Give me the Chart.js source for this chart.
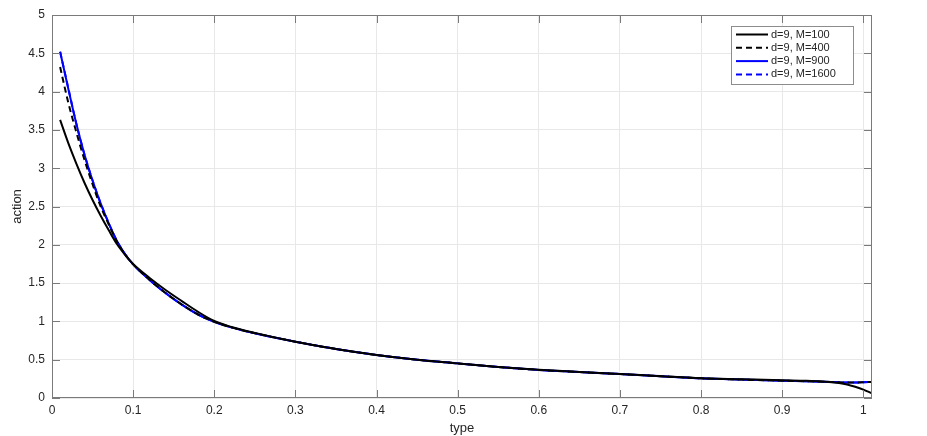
<!DOCTYPE html>
<html>
<head>
<meta charset="utf-8">
<script src="https://cdn.jsdelivr.net/npm/chart.js@4.4.1/dist/chart.umd.min.js"></script>
<style>
    html, body { margin: 0; padding: 0; background: #fff; }
    #wrap { width: 927px; height: 436px; }
</style>
</head>
<body>
<div id="wrap"><canvas id="chart"></canvas></div>
<script>
const typeValues = [0.01, 0.02, 0.03, 0.04, 0.05, 0.06, 0.07, 0.08, 0.09, 0.10,
    0.12, 0.14, 0.16, 0.18, 0.20, 0.22, 0.25, 0.30, 0.35, 0.40, 0.45, 0.50, 0.55, 0.60,
    0.65, 0.70, 0.75, 0.80, 0.85, 0.90, 0.93, 0.95, 0.97, 0.98, 0.99, 1.00, 1.01];

const actionM100 = [3.63, 3.33, 3.06, 2.81, 2.585, 2.38, 2.19, 2.01, 1.87, 1.75,
    1.57, 1.41, 1.265, 1.125, 1.005, 0.93, 0.85, 0.735, 0.64, 0.562, 0.50, 0.452, 0.405, 0.368,
    0.34, 0.313, 0.285, 0.258, 0.245, 0.232, 0.226, 0.216, 0.195, 0.176, 0.146, 0.110, 0.065];

const actionM400 = [4.32, 3.86, 3.47, 3.11, 2.79, 2.50, 2.265, 2.045, 1.875, 1.745,
    1.545, 1.37, 1.22, 1.09, 0.995, 0.925, 0.845, 0.735, 0.64, 0.562, 0.50, 0.452, 0.405, 0.367,
    0.34, 0.313, 0.285, 0.257, 0.24, 0.226, 0.219, 0.213, 0.205, 0.202, 0.202, 0.205, 0.21];

const actionM900 = [4.52, 4.04, 3.58, 3.18, 2.84, 2.54, 2.28, 2.05, 1.88, 1.745,
    1.545, 1.37, 1.22, 1.09, 0.995, 0.925, 0.845, 0.735, 0.64, 0.562, 0.50, 0.452, 0.405, 0.367,
    0.34, 0.313, 0.285, 0.257, 0.24, 0.226, 0.219, 0.213, 0.205, 0.202, 0.202, 0.205, 0.21];

const actionM1600 = [4.52, 4.05, 3.58, 3.18, 2.84, 2.54, 2.28, 2.05, 1.88, 1.745,
    1.545, 1.37, 1.22, 1.09, 0.995, 0.925, 0.845, 0.735, 0.64, 0.562, 0.50, 0.452, 0.405, 0.367,
    0.34, 0.313, 0.285, 0.257, 0.24, 0.226, 0.219, 0.213, 0.205, 0.202, 0.202, 0.205, 0.21];

const seriesLabels = ['d=9, M=100', 'd=9, M=400', 'd=9, M=900', 'd=9, M=1600'];
const xTicks = [0, 0.1, 0.2, 0.3, 0.4, 0.5, 0.6, 0.7, 0.8, 0.9, 1];
const yTicks = [0, 0.5, 1, 1.5, 2, 2.5, 3, 3.5, 4, 4.5, 5];

const FONT = "'Liberation Sans', Helvetica, Arial, sans-serif";
const AXIS_COLOR = '#262626';

const toPoints = ys => typeValues.map((x, i) => ({ x, y: ys[i] }));

const series = [
    { label: seriesLabels[0], data: toPoints(actionM100), color: '#000000', dash: [] },
    { label: seriesLabels[1], data: toPoints(actionM400), color: '#000000', dash: [6, 4] },
    { label: seriesLabels[2], data: toPoints(actionM900), color: '#0000ff', dash: [] },
    { label: seriesLabels[3], data: toPoints(actionM1600), color: '#0000ff', dash: [6, 4] }
];

// matlab style box, inward ticks and legend inside the axes
const matlabAxes = {
    id: 'matlabAxes',
    afterDatasetsDraw(chart) {
        const { ctx, chartArea: a, scales } = chart;
        ctx.save();
        ctx.strokeStyle = '#7a7a7a';
        ctx.lineWidth = 1;
        ctx.setLineDash([]);
        ctx.strokeRect(a.left + 0.5, a.top + 0.5, a.right - a.left - 1, a.bottom - a.top - 1);
        ctx.beginPath();
        xTicks.forEach(v => {
            const px = Math.round(scales.x.getPixelForValue(v)) + 0.5;
            ctx.moveTo(px, a.bottom); ctx.lineTo(px, a.bottom - 8);
            ctx.moveTo(px, a.top); ctx.lineTo(px, a.top + 8);
        });
        yTicks.forEach(v => {
            const py = Math.round(scales.y.getPixelForValue(v)) + 0.5;
            ctx.moveTo(a.left, py); ctx.lineTo(a.left + 8, py);
            ctx.moveTo(a.right, py); ctx.lineTo(a.right - 8, py);
        });
        ctx.stroke();
        ctx.restore();
    },
    afterDraw(chart) {
        const ctx = chart.ctx;
        const box = { x: 731.5, y: 26.5, w: 122, h: 58 };
        ctx.save();
        ctx.fillStyle = '#fff';
        ctx.fillRect(box.x, box.y, box.w, box.h);
        ctx.strokeStyle = '#8c8c8c';
        ctx.lineWidth = 1;
        ctx.strokeRect(box.x, box.y, box.w, box.h);
        ctx.font = '11px ' + FONT;
        ctx.textBaseline = 'middle';
        chart.data.datasets.forEach((ds, i) => {
            const y = 34.5 + i * 13.3;
            ctx.strokeStyle = ds.borderColor;
            ctx.lineWidth = 2;
            ctx.setLineDash(ds.borderDash);
            ctx.beginPath();
            ctx.moveTo(736, y);
            ctx.lineTo(768, y);
            ctx.stroke();
            ctx.setLineDash([]);
            ctx.fillStyle = AXIS_COLOR;
            ctx.fillText(ds.label, 771, y);
        });
        ctx.restore();
    }
};

new Chart(document.getElementById('chart'), {
    type: 'line',
    data: {
        datasets: series.map(s => ({
            label: s.label,
            data: s.data,
            borderColor: s.color,
            borderDash: s.dash,
            borderWidth: 2,
            pointRadius: 0,
            fill: false,
            cubicInterpolationMode: 'monotone'
        }))
    },
    options: {
        responsive: true,
        maintainAspectRatio: false,
        animation: false,
        layout: { padding: { left: 0, top: 15, right: 55, bottom: 0 } },
        plugins: { legend: { display: false }, tooltip: { enabled: false } },
        scales: {
            x: {
                type: 'linear',
                min: 0,
                max: 1.0107,
                afterFit: s => { s.height = 38; },
                afterBuildTicks: s => { s.ticks = xTicks.map(value => ({ value })); },
                grid: { color: '#e8e8e8', drawTicks: false },
                border: { display: false },
                ticks: {
                    padding: 5,
                    color: AXIS_COLOR,
                    font: { family: FONT, size: 12 },
                    maxRotation: 0,
                    callback: v => String(+v.toFixed(2))
                },
                title: {
                    display: true,
                    text: 'type',
                    color: AXIS_COLOR,
                    font: { family: FONT, size: 13 },
                    padding: { top: 7, bottom: 0 }
                }
            },
            y: {
                type: 'linear',
                min: 0,
                max: 5,
                afterFit: s => { s.width = 52; },
                afterBuildTicks: s => { s.ticks = yTicks.map(value => ({ value })); },
                grid: { color: '#e8e8e8', drawTicks: false },
                border: { display: false },
                ticks: {
                    padding: 7,
                    color: AXIS_COLOR,
                    font: { family: FONT, size: 12 },
                    callback: v => String(+v.toFixed(2))
                },
                title: {
                    display: true,
                    text: 'action',
                    color: AXIS_COLOR,
                    font: { family: FONT, size: 13 },
                    padding: { top: 10, bottom: 0 }
                }
            }
        }
    },
    plugins: [matlabAxes]
});
</script>
</body>
</html>
